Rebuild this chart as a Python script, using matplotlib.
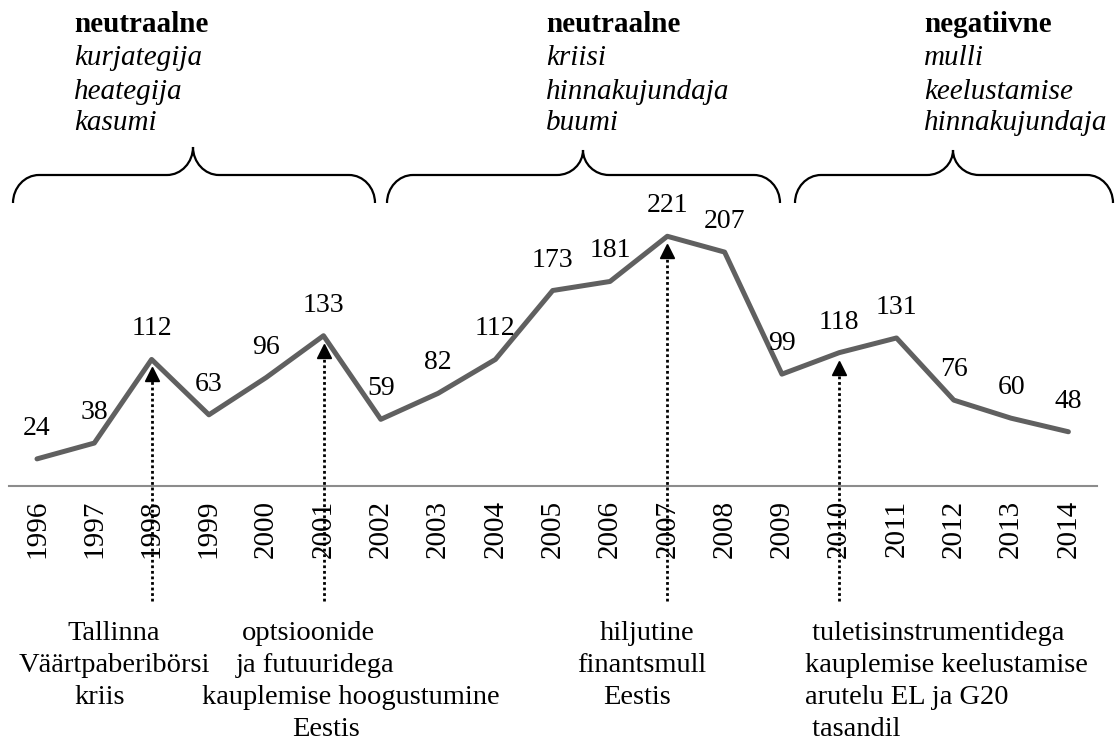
import matplotlib
matplotlib.use("Agg")
import matplotlib.pyplot as plt
from matplotlib.path import Path
from matplotlib.patches import PathPatch

plt.rcParams['font.family'] = ['Liberation Serif', 'DejaVu Serif']

years = [1996, 1997, 1998, 1999, 2000, 2001, 2002, 2003, 2004, 2005,
         2006, 2007, 2008, 2009, 2010, 2011, 2012, 2013, 2014]
values = [24, 38, 112, 63, 96, 133, 59, 82, 112, 173,
          181, 221, 207, 99, 118, 131, 76, 60, 48]

event_years = [1998, 2001, 2007, 2010]

group_titles = ['neutraalne', 'neutraalne', 'negatiivne']
group_words = [['kurjategija', 'heategija', 'kasumi'],
               ['kriisi', 'hinnakujundaja', 'buumi'],
               ['mulli', 'keelustamise', 'hinnakujundaja']]

event_lines = [['Tallinna', 'Väärtpaberibörsi', 'kriis'],
               ['optsioonide', 'ja futuuridega', 'kauplemise hoogustumine', 'Eestis'],
               ['hiljutine', 'finantsmull', 'Eestis'],
               [' tuletisinstrumentidega', 'kauplemise keelustamise', 'arutelu EL ja G20', ' tasandil']]

W, H = 1120, 744
fig = plt.figure(figsize=(W / 100, H / 100), dpi=100)

# decoration layer in pixel coords
deco = fig.add_axes([0, 0, 1, 1])
deco.set_xlim(0, W)
deco.set_ylim(H, 0)
deco.axis('off')

# main chart, bottom spine = zero line
y0 = 486
ypx = 1.13
ax = fig.add_axes([0, (H - y0) / H, 1, y0 / H])
ax.patch.set_alpha(0)
ax.set_ylim(0, y0 / ypx)
xstep = 57.3
ax.set_xlim(1996 - 37 / xstep, 1996 + (W - 37) / xstep)
PX = 1 / ypx

ax.plot(years, values, color='#606060', lw=3.6, solid_capstyle='round', zorder=3)
for yr, v in zip(years, values):
    ax.annotate(str(v), (yr, v), xytext=(0, 24), textcoords='offset pixels',
                ha='center', va='baseline', fontsize=20)

ax.set_xticks(years)
ax.set_xticklabels([str(y) for y in years], rotation=90, fontsize=21)
ax.tick_params(axis='x', length=0, pad=10)
ax.set_yticks([])
for s in ['left', 'right', 'top']:
    ax.spines[s].set_visible(False)
ax.spines['bottom'].set_bounds(1996 - 28 / xstep, 1996 + 1060 / xstep)
ax.spines['bottom'].set_color('#8c8c8c')
ax.spines['bottom'].set_linewidth(1.5)

vals = dict(zip(years, values))
ybot = -(601 - y0) * PX
for yr in event_years:
    v = vals[yr]
    ax.plot([yr, yr], [ybot, v - 14 * PX], color='black', lw=2,
            ls=(0, (1, 1)), clip_on=False, zorder=4)
    ax.plot([yr], [v - 15 * PX], marker='^', ms=10, color='black',
            clip_on=False, zorder=5)


def brace(x0, x1, xt, y_end=203, y_h=175, y_tip=147, r=26, k=0.55):
    verts = [(x0, y_end),
             (x0, y_end - k * (y_end - y_h)), (x0 + r - k * r, y_h), (x0 + r, y_h),
             (xt - r, y_h),
             (xt - r + k * r, y_h), (xt, y_tip + k * (y_h - y_tip)), (xt, y_tip),
             (xt, y_tip + k * (y_h - y_tip)), (xt + r - k * r, y_h), (xt + r, y_h),
             (x1 - r, y_h),
             (x1 - r + k * r, y_h), (x1, y_end - k * (y_end - y_h)), (x1, y_end)]
    codes = [Path.MOVETO] + [Path.CURVE4] * 3 + [Path.LINETO] + [Path.CURVE4] * 6 \
        + [Path.LINETO] + [Path.CURVE4] * 3
    deco.add_patch(PathPatch(Path(verts, codes), fill=False, lw=1.6, color='black'))


brace(13, 375, 193)
brace(387, 780, 583, y_tip=150)
brace(795, 1113, 953, y_tip=150)

title_x = [74, 546, 924]
line_y = [25, 58, 92, 123]
for tx, t, words in zip(title_x, group_titles, group_words):
    deco.text(tx, line_y[0], t, fontsize=21, fontweight='bold', ha='left', va='center')
    for wy, w in zip(line_y[1:], words):
        deco.text(tx, wy, w, fontsize=21, style='italic', ha='left', va='center')

bottom_y = [633, 666, 698, 730]
centers = [[114, 114, 100],
           [308, 315, 351, 326],
           [647, 642, 637]]
for lines, cx in zip(event_lines[:3], centers):
    for by, s, x in zip(bottom_y, lines, cx):
        deco.text(x, by, s, fontsize=20.5, ha='center', va='center')
for by, s in zip(bottom_y, event_lines[3]):
    deco.text(805, by, s, fontsize=20.5, ha='left', va='center')

fig.savefig('out.png', dpi=100)
